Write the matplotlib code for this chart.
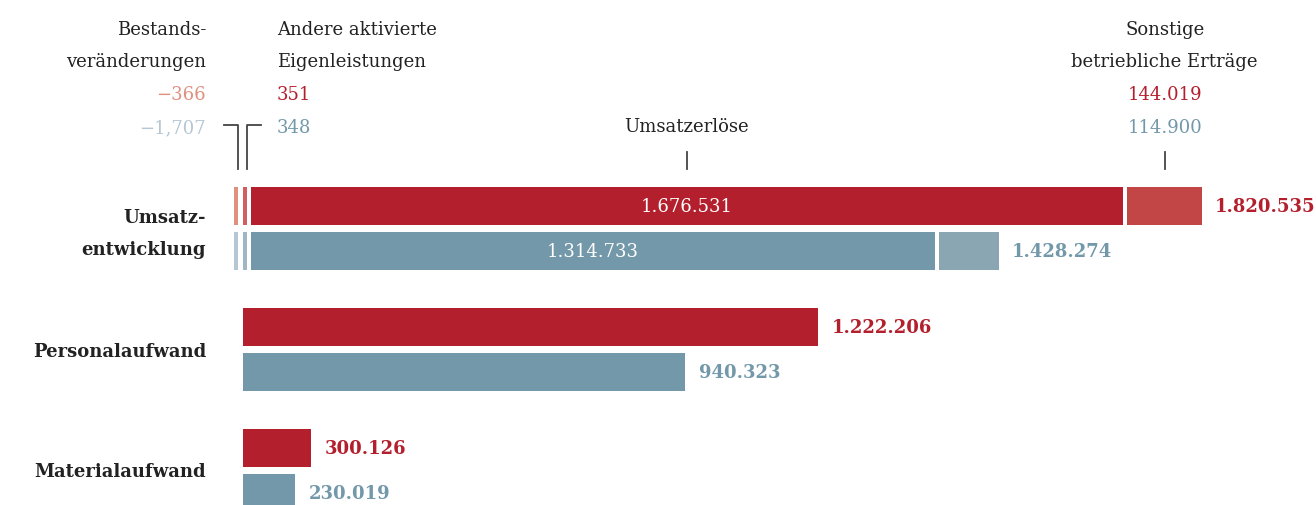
import matplotlib.pyplot as plt
from matplotlib.transforms import blended_transform_factory

# row 0 = red (current year), row 1 = blue (previous year)
bestand = [-366, -1707]
eigen = [351, 348]
umsatz = [1676531, 1314733]
sonstige = [144019, 114900]
gesamt = [1820535, 1428274]
personal = [1222206, 940323]
material = [300126, 230019]

bestand_lbl = ["\u2212366", "\u22121,707"]
eigen_lbl = ["351", "348"]
sonstige_lbl = ["144.019", "114.900"]

RED = "#b31f2c"
BLUE = "#7298a9"
main_col = [RED, BLUE]
sonst_col = ["#c24646", "#8ba6b3"]
best_col = ["#e0907f", "#b4c7d3"]
eigen_col = ["#d25f5f", "#a1b6c3"]
TXT = "#222222"
LINE = "#444444"

plt.rcParams['font.family'] = 'DejaVu Serif'
plt.rcParams['font.size'] = 13

W, H = 1316, 506
fig = plt.figure(figsize=(W / 100, H / 100), dpi=100)


def de(v):
    return f"{v:,}".replace(",", ".")


def fy(py):
    # pixel row -> figure fraction
    return 1 - py / H


def band(c_red, x0, s):
    # one panel per group, its own x scale (px per unit) and zero position
    ax = fig.add_axes([0, fy(c_red + 67.5), 1, 90 / H])
    ax.set_xlim(-x0 / s, (W - x0) / s)
    ax.set_ylim(1.5, -0.5)
    ax.axis('off')
    return ax


BH = 0.85

# --- Umsatzentwicklung (stacked) ---
s_u = 0.00052
ax = band(206.75, 238, s_u)
gap = 4.5 / s_u
minw = 4 / s_u
seg = {}
for i in range(2):
    ax.barh(i, -max(abs(bestand[i]), minw), left=0, height=BH, color=best_col[i])
    e_left = gap
    ew = max(eigen[i], minw)
    ax.barh(i, ew, left=e_left, height=BH, color=eigen_col[i])
    u_left = e_left + ew + gap
    ax.barh(i, umsatz[i], left=u_left, height=BH, color=main_col[i])
    s_left = u_left + umsatz[i] + gap
    ax.barh(i, sonstige[i], left=s_left, height=BH, color=sonst_col[i])
    ax.text(u_left + umsatz[i] / 2, i, de(umsatz[i]), color="white",
            ha="center", va="center")
    ax.annotate(de(gesamt[i]), (s_left + sonstige[i], i), xytext=(9, 0),
                textcoords="offset points", ha="left", va="center",
                color=main_col[i], fontweight="bold")
    seg[i] = (e_left + ew, u_left + umsatz[i] / 2, s_left + sonstige[i] / 2)

tr = blended_transform_factory(ax.transData, fig.transFigure)
eig_x, ums_x, son_x = seg[0]
hook = 14 / s_u
ax.plot([-hook, 0, 0], [fy(126), fy(126), fy(170)], color=LINE, lw=1.3,
        transform=tr, clip_on=False)
ax.plot([eig_x + hook, eig_x, eig_x], [fy(126), fy(126), fy(170)], color=LINE,
        lw=1.3, transform=tr, clip_on=False)
for x in (ums_x, son_x):
    ax.plot([x, x], [fy(153), fy(170)], color=LINE, lw=1.3, transform=tr,
            clip_on=False)

ax.text(ums_x, fy(132), "Umsatzerlöse", transform=tr, ha="center",
        va="baseline", color=TXT)
for txt, py in (("Sonstige", 35), ("betriebliche Erträge", 67)):
    ax.text(son_x, fy(py), txt, transform=tr, ha="center", va="baseline", color=TXT)
ax.text(son_x, fy(100), sonstige_lbl[0], transform=tr, ha="center", va="baseline", color=RED)
ax.text(son_x, fy(133), sonstige_lbl[1], transform=tr, ha="center", va="baseline", color=BLUE)

# header labels left
for txt, py in (("Bestands-", 35), ("veränderungen", 67)):
    fig.text(206 / W, fy(py), txt, ha="right", va="baseline", color=TXT)
fig.text(206 / W, fy(100), bestand_lbl[0], ha="right", va="baseline", color=best_col[0])
fig.text(206 / W, fy(133), bestand_lbl[1], ha="right", va="baseline", color=best_col[1])
for txt, py in (("Andere aktivierte", 35), ("Eigenleistungen", 67)):
    fig.text(277 / W, fy(py), txt, ha="left", va="baseline", color=TXT)
fig.text(277 / W, fy(100), eigen_lbl[0], ha="left", va="baseline", color=RED)
fig.text(277 / W, fy(133), eigen_lbl[1], ha="left", va="baseline", color=BLUE)

# --- Personalaufwand / Materialaufwand ---
for vals, c_red, s in ((personal, 328, 0.0004705), (material, 449, 0.000229)):
    axb = band(c_red, 242.5, s)
    for i in range(2):
        axb.barh(i, vals[i], left=0, height=BH, color=main_col[i])
        axb.annotate(de(vals[i]), (vals[i], i), xytext=(10, 0),
                     textcoords="offset points", ha="left", va="center",
                     color=main_col[i], fontweight="bold")

# row labels
for txt, py in (("Umsatz-", 223), ("entwicklung", 255),
                ("Personalaufwand", 357), ("Materialaufwand", 477)):
    fig.text(206 / W, fy(py), txt, ha="right", va="baseline", color=TXT,
             fontweight="bold")

fig.savefig("out.png", dpi=100)
